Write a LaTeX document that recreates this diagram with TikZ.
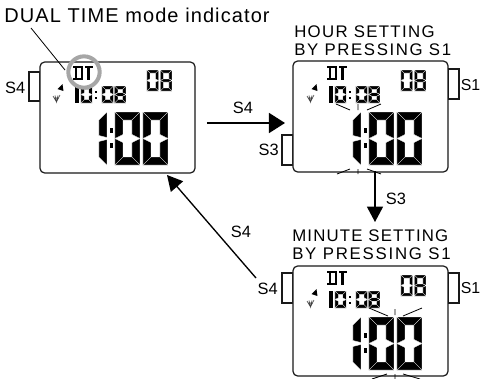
\documentclass[tikz,border=0pt]{standalone}
\usepackage{fontspec}
\setmainfont{Liberation Sans}
\usetikzlibrary{arrows.meta,calc}
\tikzset{
  x=0.75pt,y=-0.75pt,
  casebox/.style={draw=black!90,line width=0.9pt,rounded corners=3.5pt,fill=white},
  btn/.style={draw=black!90,line width=0.8pt,fill=white,minimum width=8.25pt,minimum height=22.5pt,inner sep=0pt},
  seg/.style={fill=black,draw=white,line width=0.2pt},
  tickln/.style={draw=black,line width=0.6pt},
  flow/.style={draw=black,line width=1pt,-{Triangle[length=11.5pt,width=12pt]}},
  flowbig/.style={draw=black,line width=1pt,-{Triangle[length=12pt,width=15pt]}},
  lbl/.style={font=\fontsize{12.3}{14}\selectfont,inner sep=0pt},
  lblsm/.style={font=\fontsize{11.9}{14}\selectfont,inner sep=0pt},
  captxt/.style={inner sep=0pt,anchor=west}
}
\newcommand{\captxtfont}[1]{\fontsize{12.6}{14}\selectfont\addfontfeatures{LetterSpace=#1}}
% segments: #1 x, #2 y, #3 w, #4 h, #5 t
\newcommand{\segT}[5]{\fill[seg] (#1,#2)--({#1+#3},#2)--({#1+#3-#5},{#2+#5})--({#1+#5},{#2+#5})--cycle;}
\newcommand{\segB}[5]{\fill[seg] (#1,{#2+#4})--({#1+#3},{#2+#4})--({#1+#3-#5},{#2+#4-#5})--({#1+#5},{#2+#4-#5})--cycle;}
\newcommand{\segSides}[5]{%
 \fill[seg] (#1,#2)--({#1+#5},{#2+#5})--({#1+#5},{#2+#4/2-#5/2})--(#1,{#2+#4/2})--cycle;
 \fill[seg] ({#1+#3},#2)--({#1+#3-#5},{#2+#5})--({#1+#3-#5},{#2+#4/2-#5/2})--({#1+#3},{#2+#4/2})--cycle;
 \fill[seg] (#1,{#2+#4})--({#1+#5},{#2+#4-#5})--({#1+#5},{#2+#4/2+#5/2})--(#1,{#2+#4/2})--cycle;
 \fill[seg] ({#1+#3},{#2+#4})--({#1+#3-#5},{#2+#4-#5})--({#1+#3-#5},{#2+#4/2+#5/2})--({#1+#3},{#2+#4/2})--cycle;}
\newcommand{\segM}[5]{\fill[seg] (#1,{#2+#4/2})--({#1+#5},{#2+#4/2-#5/2})--({#1+#3-#5},{#2+#4/2-#5/2})--({#1+#3},{#2+#4/2})--({#1+#3-#5},{#2+#4/2+#5/2})--({#1+#5},{#2+#4/2+#5/2})--cycle;}
\newcommand{\lcdzero}[5]{\segT{#1}{#2}{#3}{#4}{#5}\segB{#1}{#2}{#3}{#4}{#5}\segSides{#1}{#2}{#3}{#4}{#5}}
\newcommand{\lcdeight}[5]{\lcdzero{#1}{#2}{#3}{#4}{#5}\segM{#1}{#2}{#3}{#4}{#5}}
\newcommand{\lcdone}[5]{%
 \fill[seg] (#1,{#2+8})--({#1+#3},#2)--({#1+#3},{#2+#4/2-1})--(#1,{#2+#4/2-3})--cycle;
 \fill[seg] (#1,{#2+#4-8})--({#1+#3},{#2+#4})--({#1+#3},{#2+#4/2+1})--(#1,{#2+#4/2+3})--cycle;}
% full display; #1 dx, #2 dy (relative to first watch)
\newcommand{\display}[2]{%
 % DT
 \fill ({73+#1},{66+#2}) rectangle ({83.5+#1},{67.7+#2});
 \fill ({75+#1},{67+#2}) rectangle ({77.5+#1},{79+#2});
 \fill ({81+#1},{67+#2}) rectangle ({83.5+#1},{79+#2});
 \fill ({73+#1},{78+#2}) rectangle ({83.5+#1},{79.7+#2});
 \fill ({85+#1},{66+#2}) rectangle ({93.5+#1},{67.7+#2});
 \fill ({87.5+#1},{67+#2}) rectangle ({90.2+#1},{80+#2});
 % bell and signal
 \fill ({57.5+#1},{89+#2})--({62.5+#1},{84+#2})--({63.5+#1},{91+#2})--cycle;
 \draw[line width=0.45pt,black!75] ({53+#1},{96+#2})--({56.5+#1},{102+#2})--({60+#1},{95+#2})
   ({55+#1},{95.5+#2})--({56.5+#1},{102+#2})--({58+#1},{95.5+#2})
   ({54+#1},{98+#2})--({59+#1},{98+#2});
 % 08
 \lcdzero{147+#1}{70+#2}{11.7}{21}{3}
 \lcdeight{160.3+#1}{70+#2}{11.7}{21}{3}
 % 10:08
 \fill ({75+#1},{86+#2}) rectangle ({79+#1},{103+#2});
 \lcdzero{81+#1}{86+#2}{11.2}{17}{3.4}
 \fill ({95+#1},{91+#2}) rectangle ({97+#1},{93+#2});
 \fill ({95+#1},{97+#2}) rectangle ({97+#1},{99+#2});
 \lcdzero{102+#1}{86+#2}{11.5}{17}{3.4}
 \lcdeight{114.5+#1}{86+#2}{11.5}{17}{3.4}
 % 1:00
 \lcdone{99+#1}{112+#2}{8}{53}{}
 \fill ({110+#1},{128+#2}) rectangle ({113.5+#1},{133+#2});
 \fill ({110+#1},{143+#2}) rectangle ({113.5+#1},{148+#2});
 \lcdzero{115+#1}{112+#2}{25}{53}{8}
 \lcdzero{143+#1}{112+#2}{25}{53}{8}
}
\begin{document}
\begin{tikzpicture}
\useasboundingbox (0,0) rectangle (480,379);
% watch 1
\node[btn,minimum height=21.75pt] (b1) at (34.5,86.5) {};
\node[casebox,minimum width=116.25pt,minimum height=83.25pt,inner sep=0pt] (w1) at (117.5,117.5) {};
\display{0}{0}
\node[draw=black!35,line width=3pt,circle,minimum size=23.5pt,inner sep=0pt] (ring) at (84,72) {};
\node[lbl,anchor=east] (s4a) at (25.5,88) {S4};
\node[font=\fontsize{15}{16}\selectfont\addfontfeatures{LetterSpace=5.5},inner sep=0pt,anchor=west] (title) at (4,15.5) {DUAL TIME mode indicator};
\coordinate (lead) at (31,28);
\coordinate (leadend) at (65,70);
\draw[line width=0.6pt] (lead) -- (leadend);
% watch 2
\node[btn] (b2r) at (453.5,84) {};
\node[btn] (b2l) at (287.5,150) {};
\node[casebox,minimum width=116.25pt,minimum height=83.25pt,inner sep=0pt] (w2) at (370.5,116.5) {};
\display{254}{0}
\node[lblsm,anchor=west] (s1a) at (460.5,85) {S1};
\node[lbl,anchor=east] (s3a) at (279,150) {S3};
\node[captxt,font=\captxtfont{8}] (h1) at (294,32) {HOUR SETTING};
\node[captxt,font=\captxtfont{9.6}] (h2) at (294,50) {BY PRESSING S1};
\draw[tickln] (336,104)--(350,110) (358,104)--(358,110) (367,110)--(381,104);
\draw[tickln] (337,174)--(350,169) (358,169)--(358,174) (367,169)--(381,174);
% watch 3
\node[btn] (b3l) at (287.5,288) {};
\node[btn] (b3r) at (453.5,288) {};
\node[casebox,minimum width=116.25pt,minimum height=82.5pt,inner sep=0pt] (w3) at (370.5,321) {};
\display{254}{205}
\node[lbl,anchor=east] (s4c) at (278,289) {S4};
\node[lblsm,anchor=west] (s1b) at (460.5,288) {S1};
\node[captxt,font=\captxtfont{7}] (m1) at (292,236) {MINUTE SETTING};
\node[captxt,font=\captxtfont{10.5}] (m2) at (292,254) {BY PRESSING S1};
\draw[tickln] (369,308)--(388,316) (395,309)--(395,315) (403,316)--(422,308);
\draw[tickln] (372,379)--(387,374) (395,374)--(395,379) (403,374)--(420,379);
% arrows
\coordinate (a1) at (207,123);
\coordinate (a2) at (285,123);
\draw[flowbig] (a1) -- (a2);
\node[lbl] (s4top) at (243,108) {S4};
\coordinate (a3) at (375,171);
\coordinate (a4) at (375,222);
\draw[flow] (a3) -- (a4);
\node[lbl] (s3b) at (396,199) {S3};
\coordinate (a5) at (256,278);
\coordinate (a6) at (167,175);
\draw[flow] (a5) -- (a6);
\node[lbl] (s4d) at (241,232) {S4};
\end{tikzpicture}
\end{document}
